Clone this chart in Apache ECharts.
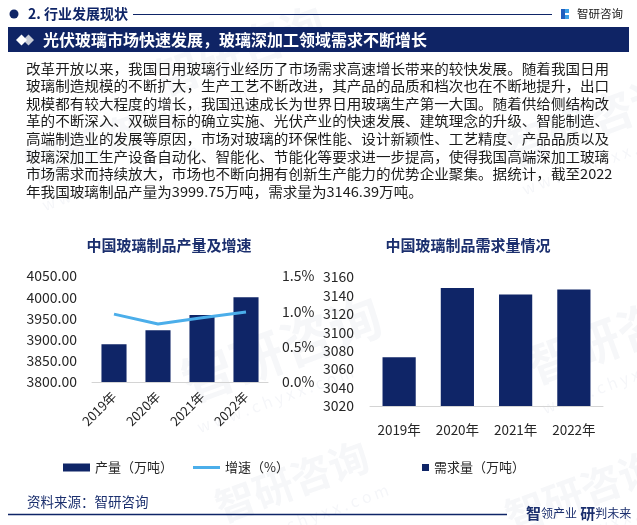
<!DOCTYPE html>
<html><head><meta charset="utf-8">
<script src="https://cdn.jsdelivr.net/npm/echarts@6/dist/echarts.min.js"></script>
<style>html,body{margin:0;padding:0;background:#fff}#c{width:637px;height:525px}</style>
</head><body><div id="c"></div>
<script>
// ---- data ----
const years = ['2019年', '2020年', '2021年', '2022年'];
const outputVals = [3889, 3922, 3958, 3999.75];      // 产量（万吨）
const growthVals = [0.96, 0.82, 0.91, 0.99];         // 增速（%）
const demandVals = [3073, 3148, 3141, 3146.39];      // 需求量（万吨）
const paragraph = [
  '改革开放以来，我国日用玻璃行业经历了市场需求高速增长带来的较快发展。随着我国日用',
  '玻璃制造规模的不断扩大，生产工艺不断改进，其产品的品质和档次也在不断地提升，出口',
  '规模都有较大程度的增长，我国迅速成长为世界日用玻璃生产第一大国。随着供给侧结构改',
  '革的不断深入、双碳目标的确立实施、光伏产业的快速发展、建筑理念的升级、智能制造、',
  '高端制造业的发展等原因，市场对玻璃的环保性能、设计新颖性、工艺精度、产品品质以及',
  '玻璃深加工生产设备自动化、智能化、节能化等要求进一步提高，使得我国高端深加工玻璃',
  '市场需求而持续放大，市场也不断向拥有创新生产能力的优势企业聚集。据统计，截至2022',
  '年我国玻璃制品产量为3999.75万吨，需求量为3146.39万吨。'
];

const NAVY = '#0f2567';
const TITLE = '#1b2f6e';
const LIGHT = '#4baeea';
const TXT = '#262626';
const FONT = '"Noto Sans CJK SC", "Noto Sans", sans-serif';

const chart = echarts.init(document.getElementById('c'), null, {renderer: 'canvas'});

const graphics = [];
// watermarks
const wm = [[150, 60, 44], [20, 150, 40], [175, 360, 52], [500, 130, 44], [520, 345, 48], [500, 500, 40], [210, 490, 40]];
wm.forEach(([x, y, s]) => {
  graphics.push({type: 'text', x: x, y: y, rotation: 0.35, z: -10, silent: true,
    style: {text: '智研咨询', font: 'bold ' + s + 'px ' + FONT, fill: 'rgba(20,50,110,0.04)'}});
  graphics.push({type: 'text', x: x + 20, y: y + s + 8, rotation: 0.35, z: -10, silent: true,
    style: {text: 'w w w . c h y x x . c o m', font: '16px ' + FONT, fill: 'rgba(20,50,110,0.045)'}});
});
// header
graphics.push({type: 'circle', shape: {cx: 14, cy: 14, r: 4.5}, style: {fill: NAVY}});
graphics.push({type: 'text', x: 28, y: 14, style: {text: '2. 行业发展现状', font: 'bold 14px ' + FONT, fill: NAVY, verticalAlign: 'middle'}});
graphics.push({type: 'line', shape: {x1: 133, y1: 14.5, x2: 552, y2: 14.5}, style: {stroke: NAVY, lineWidth: 1}});
graphics.push({type: 'rect', shape: {x: 561, y: 9, width: 4, height: 10}, style: {fill: '#1f5fbf'}});
graphics.push({type: 'rect', shape: {x: 565, y: 9, width: 4, height: 4}, style: {fill: '#3aa0e8'}});
graphics.push({type: 'rect', shape: {x: 565, y: 15, width: 4, height: 4}, style: {fill: '#3aa0e8'}});
graphics.push({type: 'text', x: 577, y: 14, style: {text: '智研咨询', font: '11.5px ' + FONT, fill: '#222', verticalAlign: 'middle'}});
// banner
graphics.push({type: 'rect', shape: {x: 8, y: 27, width: 621, height: 25}, style: {fill: '#0f2465'}});
graphics.push({type: 'polygon', shape: {points: [[23, 40], [28.5, 34.5], [34, 40], [28.5, 45.5]]}, style: {fill: '#c8ccd6'}});
graphics.push({type: 'polygon', shape: {points: [[16, 40], [21.5, 34.5], [27, 40], [21.5, 45.5]]}, style: {fill: '#ffffff'}});
graphics.push({type: 'text', x: 43, y: 40, style: {text: '光伏玻璃市场快速发展，玻璃深加工领域需求不断增长', font: 'bold 16px ' + FONT, fill: '#fff', verticalAlign: 'middle'}});
// paragraph
paragraph.forEach((line, i) => {
  graphics.push({type: 'text', x: 26, y: 68.5 + i * 17.6, scaleX: 1.08,
    style: {text: line, font: '13.5px ' + FONT, fill: '#1a1a1a', verticalAlign: 'middle'}});
});
// chart titles
graphics.push({type: 'text', x: 169, y: 245, style: {text: '中国玻璃制品产量及增速', font: 'bold 15px ' + FONT, fill: TITLE, align: 'center', verticalAlign: 'middle'}});
graphics.push({type: 'text', x: 468, y: 245, style: {text: '中国玻璃制品需求量情况', font: 'bold 15px ' + FONT, fill: TITLE, align: 'center', verticalAlign: 'middle'}});
// footer
graphics.push({type: 'text', x: 27, y: 502, style: {text: '资料来源：智研咨询', font: '13.5px ' + FONT, fill: TITLE, verticalAlign: 'middle'}});
graphics.push({type: 'line', shape: {x1: 8, y1: 514.5, x2: 507, y2: 514.5}, style: {stroke: NAVY, lineWidth: 1.5}});
graphics.push({type: 'text', x: 526, y: 513, style: {
  text: '{b|智}{s|领产业} {b|研}{s|判未来}',
  verticalAlign: 'middle',
  rich: {
    b: {font: 'bold 15px ' + FONT, fill: TITLE},
    s: {font: '12px ' + FONT, fill: TITLE}
  }
}});

const legendText = {fontSize: 13, color: TXT, fontFamily: FONT};
const option = {
  animation: false,
  backgroundColor: '#fff',
  textStyle: {fontFamily: FONT},
  grid: [
    {left: 92, top: 276, width: 176, height: 106},
    {left: 370, top: 277, width: 233, height: 129}
  ],
  legend: [
    {left: 58, top: 456, itemWidth: 27, itemHeight: 8, textStyle: legendText,
     data: [{name: '产量（万吨）', icon: 'rect'}]},
    {left: 188, top: 456, itemWidth: 27, itemHeight: 3, textStyle: legendText,
     data: [{name: '增速（%）', icon: 'rect'}]},
    {left: 417, top: 456, itemWidth: 7, itemHeight: 7, textStyle: legendText,
     data: [{name: '需求量（万吨）', icon: 'rect'}]}
  ],
  xAxis: [
    {gridIndex: 0, type: 'category', data: years,
     axisLine: {lineStyle: {color: '#d4d4d4', width: 1}}, axisTick: {show: false},
     axisLabel: {rotate: 45, interval: 0, fontSize: 13, color: TXT, margin: 12}},
    {gridIndex: 1, type: 'category', data: years,
     axisLine: {lineStyle: {color: '#d4d4d4', width: 1}}, axisTick: {show: false},
     axisLabel: {interval: 0, fontSize: 13.5, color: TXT, margin: 17}}
  ],
  yAxis: [
    {gridIndex: 0, type: 'value', min: 3800, max: 4050, interval: 50,
     axisLine: {show: false}, axisTick: {show: false}, splitLine: {show: false},
     axisLabel: {fontSize: 14, color: TXT, margin: 15, formatter: v => v.toFixed(2)}},
    {gridIndex: 0, type: 'value', position: 'right', min: 0, max: 1.5, interval: 0.5,
     axisLine: {show: false}, axisTick: {show: false}, splitLine: {show: false},
     axisLabel: {fontSize: 14, color: TXT, margin: 14, formatter: v => v.toFixed(1) + '%'}},
    {gridIndex: 1, type: 'value', min: 3020, max: 3160, interval: 20,
     axisLine: {show: false}, axisTick: {show: false}, splitLine: {show: false},
     axisLabel: {fontSize: 14, color: TXT, margin: 16, formatter: v => String(v)}}
  ],
  series: [
    {name: '产量（万吨）', type: 'bar', xAxisIndex: 0, yAxisIndex: 0, data: outputVals,
     barWidth: '57%', itemStyle: {color: NAVY}},
    {name: '增速（%）', type: 'line', xAxisIndex: 0, yAxisIndex: 1, data: growthVals,
     symbol: 'none', lineStyle: {color: LIGHT, width: 3}, itemStyle: {color: LIGHT}, z: 3},
    {name: '需求量（万吨）', type: 'bar', xAxisIndex: 1, yAxisIndex: 2, data: demandVals,
     barWidth: '57%', itemStyle: {color: NAVY}}
  ],
  graphic: graphics
};
chart.setOption(option);
</script></body></html>
